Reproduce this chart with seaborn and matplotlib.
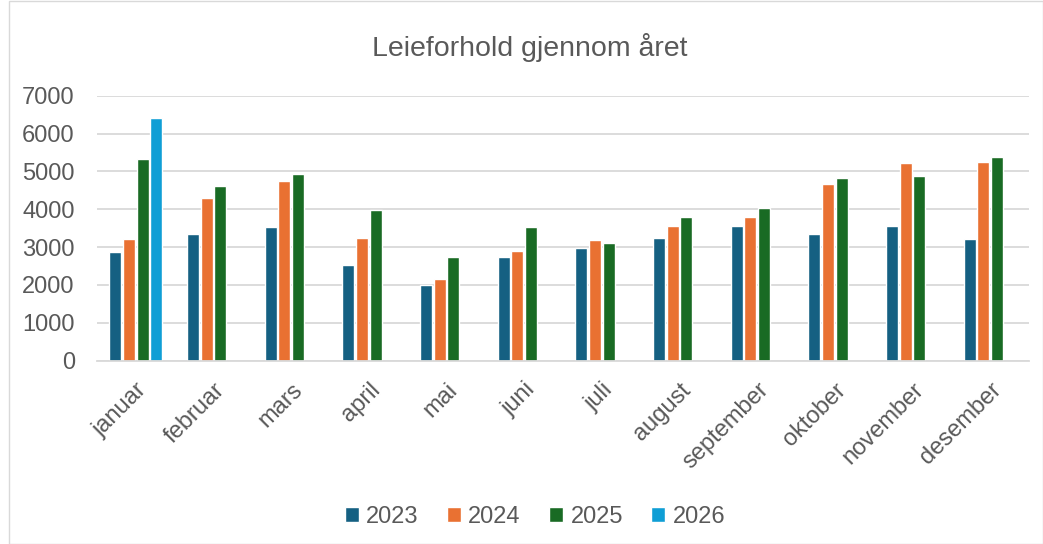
import matplotlib
matplotlib.use("Agg")
import matplotlib.pyplot as plt
import seaborn as sns
import pandas as pd
from matplotlib.patches import Rectangle

months = ["januar", "februar", "mars", "april", "mai", "juni", "juli",
          "august", "september", "oktober", "november", "desember"]
years = ["2023", "2024", "2025", "2026"]
v2023 = [2870, 3345, 3530, 2526, 1998, 2738, 2975, 3239, 3556, 3345, 3556, 3213]
v2024 = [3213, 4296, 4745, 3239, 2157, 2896, 3187, 3556, 3794, 4665, 5220, 5246]
v2025 = [5326, 4613, 4930, 3979, 2738, 3530, 3107, 3794, 4032, 4824, 4877, 5379]
v2026 = [6408]
colors = ["#156082", "#E97132", "#196B24", "#0F9ED5"]
yticks = [0, 1000, 2000, 3000, 4000, 5000, 6000, 7000]

rows = []
for y, vals in zip(years, [v2023, v2024, v2025, v2026]):
    for m, v in zip(months, vals):
        rows.append({"month": m, "year": y, "value": v})
df = pd.DataFrame(rows)

sns.set_theme(style="white")
plt.rcParams["font.family"] = ["Liberation Sans", "DejaVu Sans"]
gray = "#595959"

fig = plt.figure(figsize=(10.43, 5.44), dpi=100)
ax = fig.add_axes([97/1043, 1-360.7/544, (1029-97)/1043, (360.7-95.7)/544])

sns.barplot(data=df, x="month", y="value", hue="year", order=months,
            hue_order=years, palette=colors, width=0.7, gap=0.11,
            saturation=1, ax=ax, legend=True)

ax.set_ylim(0, 7000)
ax.set_yticks(yticks)
ax.set_yticklabels([str(t) for t in yticks])
ax.set_xlim(-0.5, 11.5)
ax.yaxis.grid(True, color="#d9d9d9", linewidth=1.3)
ax.set_axisbelow(True)
for s in ["top", "right", "left"]:
    ax.spines[s].set_visible(False)
ax.spines["bottom"].set_color("#d9d9d9")
ax.spines["bottom"].set_linewidth(1.3)
ax.set_xlabel("")
ax.set_ylabel("")
ax.tick_params(axis="both", length=0, colors=gray, labelsize=17)
ax.tick_params(axis="y", pad=16)
ax.tick_params(axis="x", pad=13)
plt.setp(ax.get_xticklabels(), rotation=45, ha="right", rotation_mode="anchor")

fig.text(0.508, 1-47/544, "Leieforhold gjennom året", ha="center", va="center",
         fontsize=20.5, color=gray)

h, l = ax.get_legend_handles_labels()
ax.get_legend().remove()
fig.legend(h, l, loc="center", bbox_to_anchor=(0.513, 1-517/544), ncol=4,
           frameon=False, fontsize=17, labelcolor=gray, handlelength=0.6,
           handleheight=0.6, handletextpad=0.3, columnspacing=1.2)

fig.patches.append(Rectangle((8.5/1043, 0.5/544), 1-9/1043, 1-1/544,
                             transform=fig.transFigure, fill=False,
                             edgecolor="#d9d9d9", linewidth=1))

fig.savefig("out.png", dpi=100)
